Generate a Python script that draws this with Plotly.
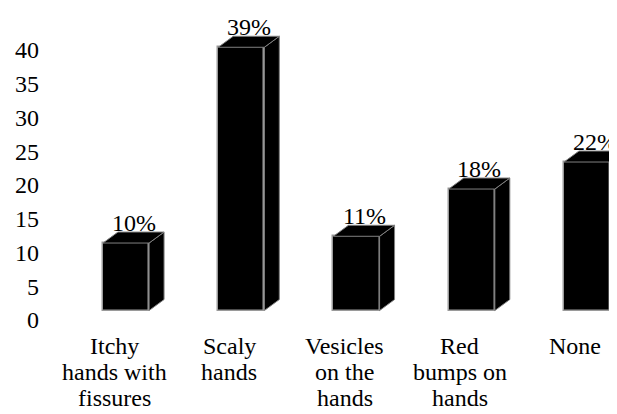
import plotly.graph_objects as go

# ---- data ----
categories = ["Itchy<br>hands with<br>fissures", "Scaly<br>hands", "Vesicles<br>on the<br>hands",
              "Red<br>bumps on<br>hands", "None"]
values = [10, 39, 11, 18, 22]
value_labels = ["10%", "39%", "11%", "18%", "22%"]
y_ticks = [0, 5, 10, 15, 20, 25, 30, 35, 40]

# ---- styling / geometry ----
FONT = "Liberation Serif, Times New Roman, serif"
B = 1.4      # floor offset of the 3D bars (axis units)
w = 0.40     # bar width (category units)
dx = 0.13    # depth in x (category units)
dy = 1.63    # depth in y (axis units)

idx = list(range(len(categories)))

top_x, top_y, side_x, side_y = [], [], [], []
for i, v in zip(idx, values):
    t = B + v
    xl, xr = i - w / 2, i + w / 2
    top_x += [xl, xr, xr + dx, xl + dx, xl, None]
    top_y += [t, t, t + dy, t + dy, t, None]
    side_x += [xr, xr + dx, xr + dx, xr, xr, None]
    side_y += [B, B + dy, t + dy, t, B, None]

fig = go.Figure()
fig.add_trace(go.Scatter(x=side_x, y=side_y, fill="toself", fillcolor="black", mode="lines",
                         line=dict(color="#808080", width=1), hoverinfo="skip", showlegend=False))
fig.add_trace(go.Scatter(x=top_x, y=top_y, fill="toself", fillcolor="black", mode="lines",
                         line=dict(color="#808080", width=1), hoverinfo="skip", showlegend=False))
fig.add_trace(go.Bar(x=idx, y=values, base=B, width=w, showlegend=False,
                     marker=dict(color="black", line=dict(color="#9a9a9a", width=1.5))))

annotations = []
for i, v, lab in zip(idx, values, value_labels):
    annotations.append(dict(x=i + dx / 2, y=B + v + dy, xref="x", yref="y", text=lab,
                            showarrow=False, yanchor="bottom", yshift=-6,
                            font=dict(family=FONT, size=24, color="black")))
for i, cat in zip(idx, categories):
    for k, line in enumerate(cat.split("<br>")):
        annotations.append(dict(x=i, y=0, xref="x", yref="paper", text=line, showarrow=False,
                                yanchor="top", xshift=-12, yshift=-(4 + 26 * k),
                                font=dict(family=FONT, size=24, color="black")))

fig.update_layout(
    width=609, height=406,
    margin=dict(l=37, r=0, t=12, b=87),
    paper_bgcolor="white", plot_bgcolor="white",
    font=dict(family=FONT, size=24, color="black"),
    bargap=0,
    xaxis=dict(range=[-0.703, 4.26], showticklabels=False, showgrid=False, zeroline=False,
               showline=False, fixedrange=True),
    yaxis=dict(range=[-1.037, 44.44], tickvals=y_ticks, showgrid=False, zeroline=False,
               showline=False, ticks="", ticklabelstandoff=5,
               tickfont=dict(family=FONT, size=24, color="black")),
    annotations=annotations,
)

fig.write_html("out.html")
